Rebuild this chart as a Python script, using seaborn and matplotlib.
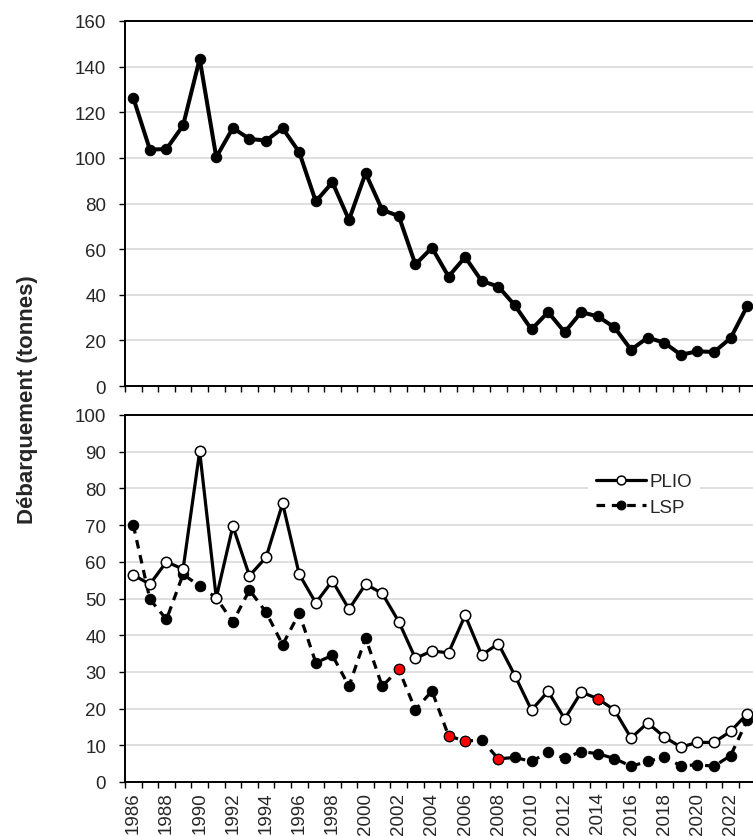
import numpy as np
import pandas as pd
import seaborn as sns
import matplotlib
matplotlib.use("Agg")
import matplotlib.pyplot as plt
from matplotlib.ticker import MultipleLocator, FixedLocator

sns.set_style("white")
plt.rcParams['font.family'] = ['Liberation Sans', 'DejaVu Sans']

years = list(range(1986, 2024))

total = [126.3, 103.6, 103.9, 114.2, 143.4, 100.3, 113.1, 108.3, 107.6, 113.0,
         102.5, 80.9, 89.3, 72.8, 93.3, 77.2, 74.5, 53.3, 60.6, 48.0,
         56.5, 46.0, 43.6, 35.3, 24.8, 32.4, 23.6, 32.4, 30.5, 25.7,
         15.9, 21.2, 19.0, 13.7, 15.2, 14.9, 21.0, 35.0]

plio = [56.4, 53.9, 60.0, 58.0, 90.1, 50.2, 69.7, 56.2, 61.2, 75.9,
        56.6, 48.8, 54.8, 47.1, 53.9, 51.4, 43.7, 33.7, 35.7, 35.2,
        45.4, 34.6, 37.7, 29.0, 19.6, 24.7, 17.2, 24.5, 22.7, 19.6,
        12.0, 16.1, 12.3, 9.5, 10.8, 10.8, 13.8, 18.6]

lsp = [70.0, 49.8, 44.3, 56.6, 53.4, 50.2, 43.6, 52.3, 46.3, 37.4,
       46.0, 32.5, 34.5, 26.1, 39.3, 26.1, 30.7, 19.7, 24.8, 12.6,
       11.1, 11.5, 6.3, 6.7, 5.6, 8.1, 6.5, 8.3, 7.7, 6.4,
       4.3, 5.6, 6.8, 4.4, 4.7, 4.3, 7.2, 16.8]

# years highlighted in red
red_lsp = [2002, 2005, 2006, 2008]
red_plio = [2014]

df = pd.DataFrame({"annee": years, "total": total, "PLIO": plio, "LSP": lsp})

W, H = 753, 837
fig = plt.figure(figsize=(W / 100, H / 100), dpi=100)
left = 125 / W
width = (755.5 - 125) / W
ax1 = fig.add_axes([left, 1 - 387 / H, width, 365 / H])
ax2 = fig.add_axes([left, 1 - 783 / H, width, 367 / H])

grid_col = "#d9d9d9"
fs = 13.5

# top panel
sns.lineplot(data=df, x="annee", y="total", ax=ax1, color="black", lw=2.9,
             marker="o", markersize=7.5, markeredgecolor="black", zorder=3)
ax1.set_ylim(0, 160)
ax1.yaxis.set_major_locator(MultipleLocator(20))

# bottom panel
sns.lineplot(data=df, x="annee", y="LSP", ax=ax2, color="black", lw=2.3,
             marker="o", markersize=7.5, markerfacecolor="black",
             markeredgecolor="black", label="LSP", zorder=3)
ax2.lines[-1].set_dashes((2.7, 2.1))
sns.lineplot(data=df, x="annee", y="PLIO", ax=ax2, color="black", lw=2.3,
             marker="o", markersize=7.5, markerfacecolor="white",
             markeredgecolor="black", markeredgewidth=1.1, label="PLIO", zorder=4)
dr = df[df["annee"].isin(red_lsp)]
sns.scatterplot(data=dr, x="annee", y="LSP", ax=ax2, color="red", s=56,
                edgecolor="black", linewidth=0.8, zorder=5, legend=False)
dp = df[df["annee"].isin(red_plio)]
sns.scatterplot(data=dp, x="annee", y="PLIO", ax=ax2, color="red", s=56,
                edgecolor="black", linewidth=0.8, zorder=5, legend=False)
ax2.set_ylim(0, 100)
ax2.yaxis.set_major_locator(MultipleLocator(10))

for ax in (ax1, ax2):
    ax.set_xlim(1985.5, 2023.5)
    ax.set_xlabel("")
    ax.set_ylabel("")
    ax.grid(axis="y", color=grid_col, lw=1.2)
    ax.set_axisbelow(True)
    for s in ("left", "bottom", "top"):
        ax.spines[s].set_visible(True)
        ax.spines[s].set_color("black")
        ax.spines[s].set_linewidth(1.4)
    ax.spines["right"].set_visible(False)
    ax.xaxis.set_major_locator(FixedLocator(years[::2]))
    ax.xaxis.set_minor_locator(FixedLocator(np.arange(1985.5, 2024, 1)))
    ax.tick_params(axis="x", which="major", length=0, labelsize=fs, pad=7)
    ax.tick_params(axis="x", which="minor", length=4.5, width=1, color="black",
                   direction="out", bottom=True)
    ax.tick_params(axis="y", length=4.5, width=1, color="black", direction="out",
                   left=True, labelsize=fs, pad=9)

ax1.set_xticklabels([])
ax2.set_xticks(years[::2])
ax2.set_xticklabels([str(y) for y in years[::2]], rotation=90)

h, l = ax2.get_legend_handles_labels()
order = [l.index("PLIO"), l.index("LSP")]
leg = ax2.legend([h[i] for i in order], [l[i] for i in order],
                 loc="center left", bbox_to_anchor=(588 / W, 1 - 495.5 / H),
                 bbox_transform=fig.transFigure, fontsize=fs,
                 frameon=True, facecolor="white", edgecolor="none",
                 handlelength=2.7, handletextpad=0.2, labelspacing=0.45,
                 borderpad=0.4, borderaxespad=0, fancybox=False, framealpha=1,
                 markerscale=0.85)

fig.text(28 / W, 1 - 400 / H, "Débarquement (tonnes)", rotation=90,
         ha="center", va="center", fontsize=16, fontweight="bold")

fig.savefig("out.png", dpi=100)
